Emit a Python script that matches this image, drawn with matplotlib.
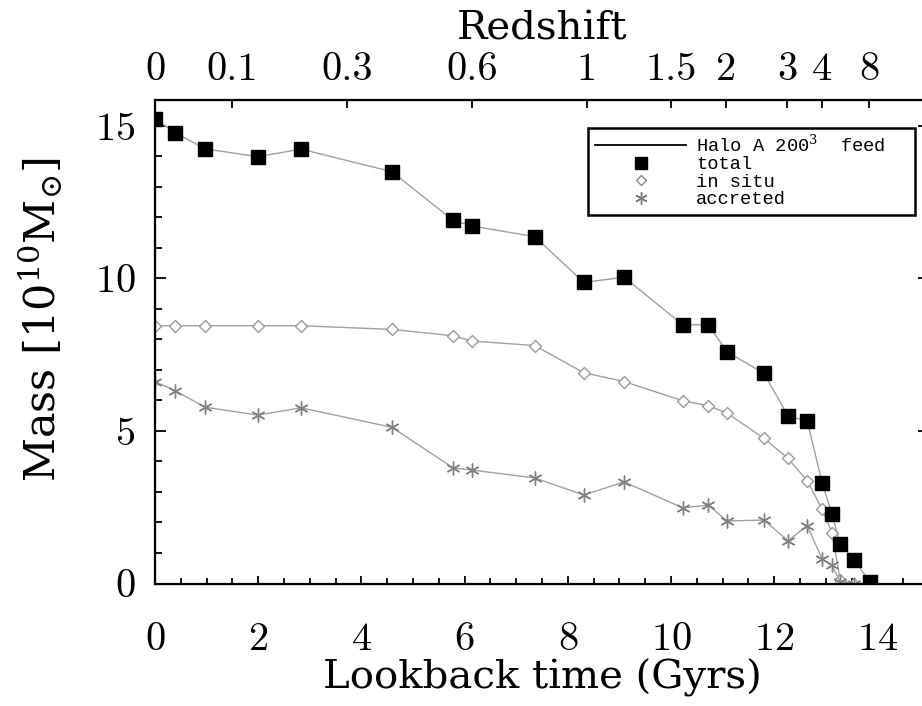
import matplotlib
matplotlib.use('Agg')
import matplotlib.pyplot as plt
from matplotlib.lines import Line2D
from matplotlib.ticker import MultipleLocator

# lookback time of each snapshot (Gyr)
t_lookback = [0.0, 0.39, 0.97, 1.99, 2.83, 4.59, 5.78, 6.14, 7.36, 8.31, 9.09,
              10.23, 10.72, 11.09, 11.80, 12.27, 12.64, 12.93, 13.12, 13.28, 13.55, 13.86]

# stellar mass in 1e10 Msun
m_total = [15.23, 14.78, 14.25, 13.99, 14.24, 13.50, 11.90, 11.72, 11.37, 9.87, 10.04,
           8.48, 8.48, 7.59, 6.89, 5.49, 5.33, 3.30, 2.27, 1.30, 0.77, 0.04]
m_insitu = [8.45, 8.45, 8.45, 8.45, 8.45, 8.33, 8.12, 7.95, 7.80, 6.91, 6.62,
            5.99, 5.83, 5.58, 4.76, 4.10, 3.37, 2.43, 1.67, 0.10, 0.0, 0.0]
m_accreted = [6.62, 6.32, 5.78, 5.52, 5.76, 5.12, 3.79, 3.72, 3.46, 2.90, 3.33,
              2.48, 2.57, 2.05, 2.08, 1.40, 1.90, 0.79, 0.60, 0.05, 0.0, 0.0]

# top axis: redshift labels and their lookback times
z_labels = ['0', '0.1', '0.3', '0.6', '1', '1.5', '2', '3', '4', '8']
z_lookback = [0.0, 1.49, 3.72, 6.14, 8.37, 10.0, 11.07, 12.25, 12.93, 13.84]

plt.rcParams['font.family'] = ['cmr10', 'DejaVu Serif']
plt.rcParams['mathtext.fontset'] = 'dejavuserif'
plt.rcParams['axes.unicode_minus'] = False
plt.rcParams['axes.formatter.use_mathtext'] = True

fig = plt.figure(figsize=(9.22, 7.06), dpi=100)
ax = fig.add_axes([155 / 922, 1 - 583.5 / 706, 774 / 922, 483.5 / 706])

line_col = '#a0a0a0'
ax.plot(t_lookback, m_total, color=line_col, lw=1.0, marker='s', ms=10,
        mfc='black', mec='black', zorder=3)
ax.plot(t_lookback, m_insitu, color=line_col, lw=1.0, marker='D', ms=6.5,
        mfc='white', mec='#999999', mew=1.0, zorder=2)
ax.plot(t_lookback, m_accreted, color=line_col, lw=1.0, marker=(6, 2, 0), ms=10,
        mec='#808080', mew=1.0, zorder=2)

ax.set_xlim(0, 15)
ax.set_ylim(0, 15.85)
ax.xaxis.set_major_locator(MultipleLocator(2))
ax.xaxis.set_minor_locator(MultipleLocator(0.5))
ax.yaxis.set_major_locator(MultipleLocator(5))
ax.yaxis.set_minor_locator(MultipleLocator(1))
ax.tick_params(axis='both', which='both', direction='in', top=False, right=True, width=1.3)
ax.tick_params(axis='x', which='major', length=6, labelsize=29, pad=28)
ax.tick_params(axis='x', which='minor', length=4)
ax.tick_params(axis='y', which='major', length=8, labelsize=29, pad=14)
ax.tick_params(axis='y', which='minor', length=5)
for s in ax.spines.values():
    s.set_linewidth(1.6)

ax.set_xlabel('Lookback time (Gyrs)', family='DejaVu Serif', fontsize=29)
ax.xaxis.set_label_coords(0.5, -0.155)
ax.set_ylabel(r'Mass [10$^{10}$M$_{\odot}$]', family='DejaVu Serif', fontsize=31)
ax.yaxis.set_label_coords(-0.116, 0.545)

ax2 = ax.twiny()
ax2.set_xlim(ax.get_xlim())
ax2.set_xticks(z_lookback)
ax2.set_xticklabels(z_labels)
ax2.tick_params(axis='x', direction='in', length=6, width=1.3, labelsize=29, pad=9)
ax2.set_xlabel('Redshift', family='DejaVu Serif', fontsize=29)
ax2.xaxis.set_label_coords(0.5, 1.125)

handles = [
    Line2D([], [], color='black', lw=1.3),
    Line2D([], [], ls='none', marker='s', ms=8, mfc='black', mec='black'),
    Line2D([], [], ls='none', marker='D', ms=5.5, mfc='white', mec='#888888'),
    Line2D([], [], ls='none', marker=(6, 2, 0), ms=9, mec='#777777'),
]
labels = ['Halo A 200$^3$  feed', 'total', 'in situ', 'accreted']
leg = ax.legend(handles, labels, loc='upper left', mode='expand',
                bbox_to_anchor=(588 / 922, 1 - 218 / 706, 327 / 922, 90 / 706),
                bbox_transform=fig.transFigure,
                prop={'family': 'Liberation Mono', 'size': 13.5}, handlelength=4.9,
                handletextpad=0.5, labelspacing=0.02, borderpad=0.35,
                borderaxespad=0, fancybox=False, framealpha=1, edgecolor='black')
leg.get_frame().set_linewidth(1.8)

fig.savefig('out.png', dpi=100)
